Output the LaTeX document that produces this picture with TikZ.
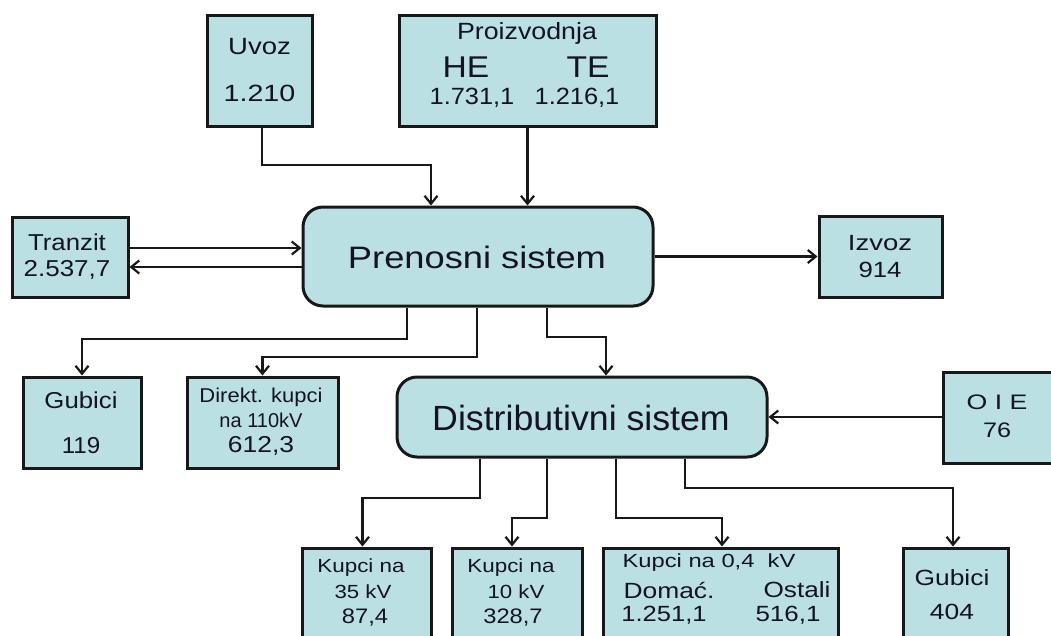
\documentclass[tikz,border=0pt]{standalone}
\usepackage{fontspec}
\usepackage{graphicx}
\setmainfont{Liberation Sans}
\usetikzlibrary{arrows.meta,calc}
\definecolor{boxfill}{RGB}{186,224,228}
\definecolor{edge}{RGB}{24,24,24}
\definecolor{ink}{RGB}{20,18,36}
\newcommand\lbl[3]{\scalebox{#2}[1]{\fontsize{#1}{#1}\selectfont #3}}
\tikzset{
  box/.style={draw=edge, line width=3pt, fill=boxfill, inner sep=0pt},
  sysbox/.style={box, rounded corners=20pt},
  txt/.style={inner sep=0pt, text=ink, anchor=center},
  arr/.style={draw=edge, line width=2.2pt, -{Straight Barb[length=8pt,width=13pt]}},
}
\begin{document}
\begin{tikzpicture}[x=1pt,y=-1pt]
\useasboundingbox (0,0) rectangle (1051,635);
\clip (0,0) rectangle (1051,635);
\fill[white] (0,0) rectangle (1051,635);

% boxes
\node[box, minimum width=105pt, minimum height=111pt] (uvoz) at (259.5,70.5) {};
\node[box, minimum width=257pt, minimum height=111pt] (proiz) at (527.5,70.5) {};
\node[sysbox, minimum width=350pt, minimum height=99pt] (pren) at (478,256.5) {};
\node[box, minimum width=116pt, minimum height=80pt] (tranz) at (70,257) {};
\node[box, minimum width=123pt, minimum height=81pt] (izvoz) at (880.5,256.5) {};
\node[box, minimum width=118pt, minimum height=91pt] (gub1) at (82,422.5) {};
\node[box, minimum width=151pt, minimum height=91pt] (direkt) at (262.5,422.5) {};
\node[sysbox, minimum width=370pt, minimum height=80pt] (dist) at (582,417) {};
\node[box, minimum width=127pt, minimum height=91pt] (oie) at (1006.5,417.5) {};
\node[box, minimum width=129pt, minimum height=104pt] (k35) at (366.5,600) {};
\node[box, minimum width=130pt, minimum height=104pt] (k10) at (517,600) {};
\node[box, minimum width=235pt, minimum height=104pt] (k04) at (720.5,600) {};
\node[box, minimum width=105pt, minimum height=104pt] (gub2) at (955.5,600) {};

% texts
\node[txt] (uvozA) at (259.5,47) {\lbl{23.5}{1.17}{Uvoz}};
\node[txt] (uvozB) at (259.5,93) {\lbl{23.5}{1.22}{1.210}};
\node[txt] (proA) at (527,33) {\lbl{23.5}{1.14}{Proizvodnja}};
\node[txt] (proHE) at (466,67) {\lbl{30}{1.12}{HE}};
\node[txt] (proTE) at (588,67) {\lbl{30}{1.12}{TE}};
\node[txt] (proN1) at (472,98) {\lbl{23.5}{1.08}{1.731,1}};
\node[txt] (proN2) at (577,98) {\lbl{23.5}{1.08}{1.216,1}};
\node[txt] (prenT) at (477,257) {\lbl{31}{1.17}{Prenosni sistem}};
\node[txt] (tranA) at (67,242) {\lbl{23}{1.12}{Tranzit}};
\node[txt] (tranB) at (67,270) {\lbl{23}{1.13}{2.537,7}};
\node[txt] (izvA) at (880,243) {\lbl{22}{1.25}{Izvoz}};
\node[txt] (izvB) at (880,270) {\lbl{22}{1.17}{914}};
\node[txt] (gubA) at (81,400) {\lbl{23}{1.12}{Gubici}};
\node[txt] (gubB) at (81,446) {\lbl{23}{1.05}{119}};
\node[txt] (dirA) at (261,397) {\lbl{20}{1.1}{Direkt. kupci}};
\node[txt] (dirB) at (261,420) {\lbl{20}{1.0}{na 110kV}};
\node[txt] (dirC) at (261,446) {\lbl{23}{1.15}{612,3}};
\node[txt] (distT) at (581,418) {\lbl{35}{1.02}{Distributivni sistem}};
\node[txt] (oieA) at (997,402) {\lbl{21}{1.27}{O I E}};
\node[txt] (oieB) at (997,430) {\lbl{21}{1.2}{76}};
\node[txt] (k35A) at (361,568) {\lbl{19}{1.18}{Kupci na}};
\node[txt] (k35B) at (363,592) {\lbl{19}{1.17}{35 kV}};
\node[txt] (k35C) at (365,617) {\lbl{21}{1.13}{87,4}};
\node[txt] (k10A) at (511,568) {\lbl{19}{1.18}{Kupci na}};
\node[txt] (k10B) at (516,592) {\lbl{19}{1.17}{10 kV}};
\node[txt] (k10C) at (513,617) {\lbl{21}{1.13}{328,7}};
\node[txt] (k04A) at (709,563) {\lbl{19}{1.25}{Kupci na 0,4\ \ kV}};
\node[txt] (k04B) at (669,590) {\lbl{22}{1.2}{Domać.}};
\node[txt] (k04C) at (797,590) {\lbl{22}{1.19}{Ostali}};
\node[txt] (k04D) at (664,615) {\lbl{22}{1.16}{1.251,1}};
\node[txt] (k04E) at (788,615) {\lbl{22}{1.18}{516,1}};
\node[txt] (gub2A) at (952,578) {\lbl{22}{1.2}{Gubici}};
\node[txt] (gub2B) at (952,612) {\lbl{22}{1.2}{404}};

% connectors
\coordinate (u1) at (262,165);
\draw[arr] (uvoz.south -| u1) -- (u1) -| ([xshift=-47pt]pren.north);
\draw[arr] (proiz.south) -- (proiz.south |- pren.north);
\coordinate (t1) at (0,248);
\coordinate (t2) at (0,267);
\draw[arr] (tranz.east |- t1) -- (pren.west |- t1);
\draw[arr] (pren.west |- t2) -- (tranz.east |- t2);
\draw[arr] (pren.east) -- (izvoz.west);
\coordinate (p1) at (407,339);
\coordinate (p2) at (477,357);
\coordinate (p3) at (547,337);
\draw[arr] (pren.south -| p1) -- (p1) -| (gub1.north);
\draw[arr] (pren.south -| p2) -- (p2) -| (direkt.north);
\draw[arr] (pren.south -| p3) -- (p3) -| ([xshift=24pt]dist.north);
\draw[arr] (oie.west |- dist.east) -- (dist.east);
\coordinate (q1) at (480,498);
\coordinate (q2) at (547,518);
\coordinate (q3) at (616,518);
\coordinate (q4) at (685,488);
\draw[arr] (dist.south -| q1) -- (q1) -| ([xshift=-4pt]k35.north);
\draw[arr] (dist.south -| q2) -- (q2) -| ([xshift=-5pt]k10.north);
\draw[arr] (dist.south -| q3) -- (q3) -| ([xshift=1.5pt]k04.north);
\draw[arr] (dist.south -| q4) -- (q4) -| ([xshift=-2.5pt]gub2.north);
\end{tikzpicture}
\end{document}
